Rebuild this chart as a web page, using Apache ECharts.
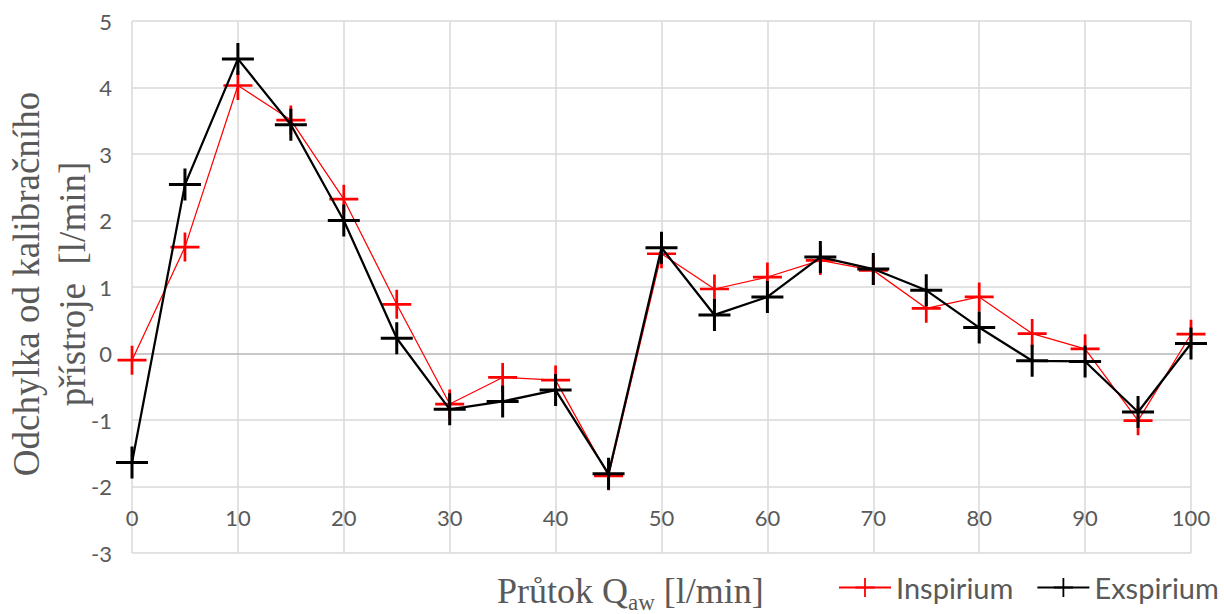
<!DOCTYPE html>
<html>
<head>
<meta charset="utf-8">
<script src="https://cdn.jsdelivr.net/npm/echarts@6/dist/echarts.min.js"></script>
<style>
  html, body { margin: 0; padding: 0; background: #ffffff; }
  #chart { width: 1224px; height: 614px; }
</style>
</head>
<body>
<div id="chart"></div>
<script>
// Flow rate steps [l/min]
const flow = [0, 5, 10, 15, 20, 25, 30, 35, 40, 45, 50, 55, 60, 65, 70, 75, 80, 85, 90, 95, 100];
// Deviation from the calibration instrument [l/min]
const inspirium = [-0.10, 1.60, 4.03, 3.51, 2.32, 0.74, -0.76, -0.36, -0.40, -1.84, 1.50, 0.97, 1.15, 1.40, 1.25, 0.68, 0.85, 0.30, 0.07, -1.01, 0.29];
const exspirium = [-1.64, 2.54, 4.43, 3.44, 2.00, 0.23, -0.84, -0.72, -0.55, -1.81, 1.59, 0.58, 0.85, 1.45, 1.27, 0.95, 0.39, -0.11, -0.12, -0.88, 0.15];
const seriesNames = ['Inspirium', 'Exspirium'];

const pairs = (ys) => flow.map((x, i) => [x, ys[i]]);

// plus-shaped marker
const plus = 'path://M14.5,0H17.5V14.5H32V17.5H17.5V32H14.5V17.5H0V14.5H14.5Z';

const tickFont = 'Lato, "Open Sans", sans-serif';
const titleFont = '"Liberation Serif", "DejaVu Serif", serif';
const grey = '#595959';

// x-axis title pieces: "Průtok Q", subscript "aw", " [l/min]"
const titleSize = 36, subSize = 23;
const titleLeft = 497;
function textWidth(str, size) {
  const c = document.createElement('canvas').getContext('2d');
  c.font = size + 'px ' + titleFont;
  return c.measureText(str).width;
}
const partA = 'Průtok Q', partB = 'aw', partC = ' [l/min]';
const wA = textWidth(partA, titleSize), wB = textWidth(partB, subSize);

const chart = echarts.init(document.getElementById('chart'), null, { renderer: 'svg' });

chart.setOption({
  animation: false,
  backgroundColor: '#ffffff',
  grid: { left: 132, right: 33, top: 21, bottom: 61, containLabel: false },
  xAxis: {
    type: 'value',
    min: 0, max: 100, interval: 10,
    offset: -66.5,
    axisLine: { show: true, lineStyle: { color: '#bfbfbf', width: 1.5 } },
    axisTick: { show: false },
    axisLabel: { color: grey, fontFamily: tickFont, fontSize: 22, margin: 20 },
    splitLine: { show: true, lineStyle: { color: '#d9d9d9', width: 1.5 } }
  },
  yAxis: {
    type: 'value',
    min: -3, max: 5, interval: 1,
    axisLine: { show: false },
    axisTick: { show: false },
    axisLabel: { color: grey, fontFamily: tickFont, fontSize: 22, margin: 20 },
    splitLine: { show: true, lineStyle: { color: '#d9d9d9', width: 1.5 } }
  },
  legend: {
    data: seriesNames,
    left: 838, top: 573,
    itemWidth: 52, itemHeight: 24, itemGap: 23,
    padding: 0,
    textStyle: { color: grey, fontFamily: tickFont, fontSize: 29, padding: [0, 0, 0, 0] }
  },
  graphic: [
    {
      type: 'text',
      x: 49, y: 284,
      rotation: Math.PI / 2,
      style: {
        text: 'Odchylka od kalibračního\npřístroje  [l/min]',
        font: '37px ' + titleFont,
        fill: grey,
        align: 'center',
        verticalAlign: 'middle',
        lineHeight: 46
      }
    },
    {
      type: 'text',
      x: titleLeft, y: 591,
      style: { text: partA, font: titleSize + 'px ' + titleFont, fill: grey, align: 'left', verticalAlign: 'middle' }
    },
    {
      type: 'text',
      x: titleLeft + wA, y: 602,
      style: { text: partB, font: subSize + 'px ' + titleFont, fill: grey, align: 'left', verticalAlign: 'middle' }
    },
    {
      type: 'text',
      x: titleLeft + wA + wB, y: 591,
      style: { text: partC, font: titleSize + 'px ' + titleFont, fill: grey, align: 'left', verticalAlign: 'middle' }
    }
  ],
  series: [
    {
      name: seriesNames[0],
      type: 'line',
      data: pairs(inspirium),
      symbol: plus,
      symbolSize: 29,
      showAllSymbol: true,
      lineStyle: { color: '#ff0000', width: 1.25 },
      itemStyle: { color: '#ff0000' },
      z: 2
    },
    {
      name: seriesNames[1],
      type: 'line',
      data: pairs(exspirium),
      symbol: plus,
      symbolSize: 32,
      showAllSymbol: true,
      lineStyle: { color: '#000000', width: 2.25 },
      itemStyle: { color: '#000000' },
      z: 3
    }
  ]
});
</script>
</body>
</html>
